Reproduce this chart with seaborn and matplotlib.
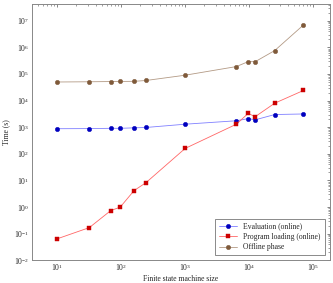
import numpy as np
import pandas as pd
import seaborn as sns
import matplotlib.pyplot as plt
from matplotlib.ticker import LogLocator, NullFormatter

# FSM sizes (x) and times in seconds
fsm_size = [10, 32, 69, 97, 160, 245, 1000, 6300, 9600, 12400, 25000, 70000]
evaluation = [880, 890, 910, 910, 950, 980, 1300, 1750, 2100, 1900, 3000, 3150]
program_loading = [0.064, 0.17, 0.74, 1.0, 4.2, 8.3, 160, 1300, 3300, 2500, 8000, 24000]
offline_phase = [50000, 51000, 52000, 52500, 53000, 57000, 90000, 190000, 290000, 290000, 760000, 6900000]

labels = ['Evaluation (online)', 'Program loading (online)', 'Offline phase']

df = pd.DataFrame({'size': fsm_size, labels[0]: evaluation,
                   labels[1]: program_loading, labels[2]: offline_phase})

sns.set_style('white')
plt.rcParams['font.family'] = ['Liberation Serif', 'DejaVu Serif']
plt.rcParams['mathtext.fontset'] = 'cm'

fig = plt.figure(figsize=(3.33, 2.83), dpi=100)
ax = fig.add_axes([0.096, 0.08, 0.895, 0.906])

styles = [('#0000bf', '#8080ff', 'o', 3.2),
          ('#cc0000', '#ff6666', 's', 3.4),
          ('#7f5a3a', '#b39a85', 'o', 3.2)]
for lab, (mc, lc, mk, ms) in zip(labels, styles):
    sns.lineplot(data=df, x='size', y=lab, ax=ax, color=lc, linewidth=0.6,
                 marker=mk, markersize=ms, markerfacecolor=mc, markeredgecolor=mc,
                 markeredgewidth=0.3, label=lab)

ax.set_xscale('log')
ax.set_yscale('log')
ax.set_xlim(10**0.61, 10**5.26)
ax.set_ylim(1e-2, 10**7.63)
ax.set_xticks([1e1, 1e2, 1e3, 1e4, 1e5])
ax.set_yticks([10.0**k for k in range(-2, 8)])
ax.xaxis.set_minor_locator(LogLocator(base=10, subs=np.arange(2, 10), numticks=20))
ax.yaxis.set_minor_locator(LogLocator(base=10, subs=np.arange(2, 10), numticks=20))
ax.xaxis.set_minor_formatter(NullFormatter())
ax.yaxis.set_minor_formatter(NullFormatter())
ax.tick_params(which='both', direction='in', top=True, right=True,
               labelsize=5.5, color='#555555', pad=2)
ax.tick_params(axis='x', pad=1.5)
ax.tick_params(which='major', length=2.5, width=0.5)
ax.tick_params(which='minor', length=1.5, width=0.4)
for s in ax.spines.values():
    s.set_color('#888888')
    s.set_linewidth(0.7)

ax.set_xlabel('Finite state machine size', fontsize=5.5, labelpad=1)
ax.set_ylabel('Time (s)', fontsize=5.5, labelpad=3)

leg = ax.legend(loc='lower right', fontsize=5.5, frameon=True, fancybox=False,
                borderaxespad=0.7, handlelength=2.4, borderpad=0.5, labelspacing=0.3)
leg.get_frame().set_edgecolor('#555555')
leg.get_frame().set_linewidth(0.6)

fig.savefig('out.png', dpi=100)
